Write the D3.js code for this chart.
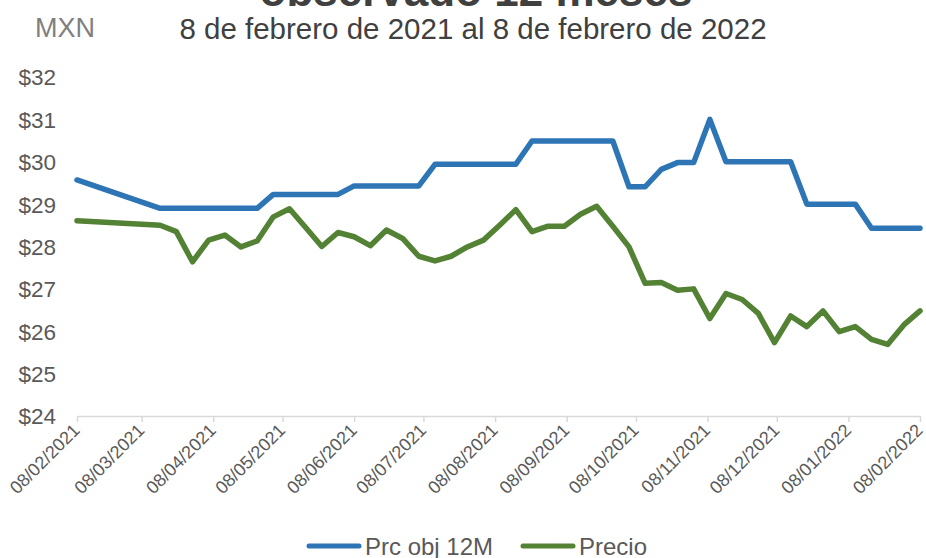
<!DOCTYPE html>
<html>
<head>
<meta charset="utf-8">
<script src="https://cdn.jsdelivr.net/npm/d3@7"></script>
<style>
	body { margin: 0; background: #fff; }
	svg text { font-family: "Liberation Sans", Arial, sans-serif; }
</style>
</head>
<body>
<div id="chart"></div>
<script>
// weekly dates (first point is 8 Feb 2021, then a gap until mid-March)
const dates = [
	'2021-02-08',
	'2021-03-16', '2021-03-23', '2021-03-30',
	'2021-04-06', '2021-04-13', '2021-04-20', '2021-04-27',
	'2021-05-04', '2021-05-11', '2021-05-18', '2021-05-25',
	'2021-06-01', '2021-06-08', '2021-06-15', '2021-06-22', '2021-06-29',
	'2021-07-06', '2021-07-13', '2021-07-20', '2021-07-27',
	'2021-08-03', '2021-08-10', '2021-08-17', '2021-08-24', '2021-08-31',
	'2021-09-07', '2021-09-14', '2021-09-21', '2021-09-28',
	'2021-10-05', '2021-10-12', '2021-10-19', '2021-10-26',
	'2021-11-02', '2021-11-09', '2021-11-16', '2021-11-23', '2021-11-30',
	'2021-12-07', '2021-12-14', '2021-12-21', '2021-12-28',
	'2022-01-04', '2022-01-11', '2022-01-18', '2022-01-25',
	'2022-02-01', '2022-02-08'
];

const prcObj = [
	29.57,
	28.9, 28.9, 28.9,
	28.9, 28.9, 28.9, 28.9,
	29.23, 29.23, 29.23, 29.23,
	29.23, 29.43, 29.43, 29.43, 29.43,
	29.43, 29.94, 29.94, 29.94,
	29.94, 29.94, 29.94, 30.49, 30.49,
	30.49, 30.49, 30.49, 30.49,
	29.41, 29.41, 29.82, 29.98,
	29.98, 31.0, 30.0, 30.0, 30.0,
	30.0, 30.0, 29.0, 29.0,
	29.0, 29.0, 28.43, 28.43,
	28.43, 28.43
];

const precio = [
	28.61,
	28.5, 28.35, 27.64,
	28.15, 28.27, 27.99, 28.13,
	28.7, 28.89, 28.45, 28.0,
	28.33, 28.23, 28.02, 28.39, 28.19,
	27.77, 27.66, 27.77, 27.99,
	28.15, 28.5, 28.87, 28.35, 28.48,
	28.48, 28.76, 28.95, 28.48,
	27.99, 27.13, 27.15, 26.97,
	27.0, 26.3, 26.89, 26.75, 26.42,
	25.73, 26.36, 26.11, 26.48,
	25.99, 26.11, 25.81, 25.69,
	26.15, 26.48
];

const tickDates = [
	'2021-02-08', '2021-03-08', '2021-04-08', '2021-05-08', '2021-06-08',
	'2021-07-08', '2021-08-08', '2021-09-08', '2021-10-08', '2021-11-08',
	'2021-12-08', '2022-01-08', '2022-02-08'
];
const yTicks = [24, 25, 26, 27, 28, 29, 30, 31, 32];

const seriesNames = ['Prc obj 12M', 'Precio'];
const colors = ['#2e75b6', '#548235'];

const config = {
	width: 926,
	height: 558,
	margin: { top: 77, right: 6, bottom: 142, left: 77 }
};

const parse = d3.timeParse('%Y-%m-%d');
const fmt = d3.timeFormat('%d/%m/%Y');

const svg = d3.select('#chart')
	.append('svg')
	.attr('width', config.width)
	.attr('height', config.height);

const x = d3.scaleTime()
	.domain([parse(tickDates[0]), parse(tickDates[tickDates.length - 1])])
	.range([config.margin.left, config.width - config.margin.right]);

const y = d3.scaleLinear()
	.domain([24, 32])
	.range([config.height - config.margin.bottom, config.margin.top]);

// titles (main title is cut off at the top of the picture)
svg.append('text')
	.attr('x', 476)
	.attr('y', 6)
	.attr('text-anchor', 'middle')
	.attr('font-size', 44)
	.attr('font-weight', 'bold')
	.attr('fill', '#404040')
	.text('observado 12 meses');

svg.append('text')
	.attr('x', 473)
	.attr('y', 39)
	.attr('text-anchor', 'middle')
	.attr('font-size', 29.5)
	.attr('fill', '#404040')
	.text('8 de febrero de 2021 al 8 de febrero de 2022');

svg.append('text')
	.attr('x', 35)
	.attr('y', 37)
	.attr('font-size', 27)
	.attr('fill', '#808080')
	.text('MXN');

// y axis labels only, no line
const yAxis = svg.append('g')
	.attr('transform', `translate(${config.margin.left},0)`)
	.call(d3.axisLeft(y).tickValues(yTicks).tickFormat(d => '$' + d).tickSize(0).tickPadding(21));
yAxis.select('.domain').remove();
yAxis.selectAll('text')
	.attr('font-size', 22.5)
	.attr('fill', '#595959')
	.attr('dy', '0.35em');

// x axis
const xAxis = svg.append('g')
	.attr('transform', `translate(0,${y(24)})`)
	.call(d3.axisBottom(x).tickValues(tickDates.map(parse)).tickFormat(fmt).tickSize(6).tickSizeOuter(0));
xAxis.select('.domain').attr('stroke', '#d9d9d9').attr('stroke-width', 1.5);
xAxis.selectAll('.tick line').attr('stroke', '#d9d9d9').attr('stroke-width', 1.5);
xAxis.selectAll('.tick text')
	.attr('font-size', 18)
	.attr('fill', '#595959')
	.attr('text-anchor', 'end')
	.attr('dy', 0)
	.attr('transform', 'translate(-3,9) rotate(-45)');

const line = d3.line()
	.x((d, i) => x(parse(dates[i])))
	.y(d => y(d));

svg.append('g')
	.selectAll('path')
	.data([prcObj, precio])
	.join('path')
	.attr('d', d => line(d))
	.attr('fill', 'none')
	.attr('stroke', (d, i) => colors[i])
	.attr('stroke-width', 5.5)
	.attr('stroke-linejoin', 'round')
	.attr('stroke-linecap', 'round');

// legend
const legend = svg.append('g')
	.attr('transform', 'translate(0,546)');
const legendX = [307, 521];
const items = legend.selectAll('g')
	.data(seriesNames)
	.join('g')
	.attr('transform', (d, i) => `translate(${legendX[i]},0)`);
items.append('line')
	.attr('x1', 2).attr('x2', 52)
	.attr('stroke', (d, i) => colors[i])
	.attr('stroke-width', 5)
	.attr('stroke-linecap', 'round');
items.append('text')
	.attr('x', 58)
	.attr('y', 8.5)
	.attr('font-size', 24)
	.attr('fill', '#595959')
	.text(d => d);
</script>
</body>
</html>
